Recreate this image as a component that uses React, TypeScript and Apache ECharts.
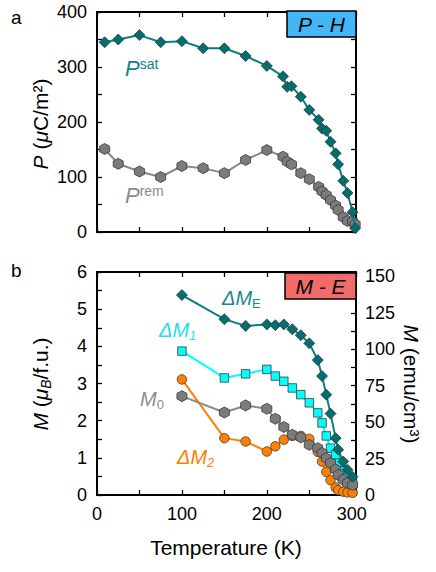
import React, { useEffect, useRef } from 'react';
import * as echarts from 'echarts';

// Panel a: polarization vs temperature
const T_TOP = [9, 25, 50, 75, 100, 125, 150, 175, 200, 219, 224, 229, 240, 250, 261, 265, 270, 275, 281, 284, 290, 295, 301, 304];
const P_SAT = [345, 350, 358, 345, 347, 334, 334, 320, 302, 283, 264, 265, 246, 222, 204, 188, 184, 164, 143, 123, 93, 71, 36, 7];
const P_REM = [151, 124, 110, 100, 120, 116, 107, 131, 149, 137, 128, 123, 107, 96, 82, 74, 67, 58, 48, 40, 27, 20, 19, 14];

// Panel b: magnetization vs temperature
const T_BOT = [100, 150, 175, 200, 210, 220, 230, 240, 250, 260, 265, 270, 275, 281, 284, 290, 295, 301];
const DM_E = [5.38, 4.73, 4.55, 4.59, 4.57, 4.59, 4.46, 4.3, 4.08, 3.63, 3.2, 2.7, 2.19, 1.53, 1.22, 0.9, 0.68, 0.49];
const DM_1 = [3.87, 3.15, 3.26, 3.38, 3.2, 3.06, 2.88, 2.7, 2.48, 2.21, 1.94, 1.59, 1.26, 1.08, 0.86, 0.65, 0.46, 0.3];
const M_0 = [2.66, 2.22, 2.41, 2.32, 2.05, 1.83, 1.62, 1.55, 1.35, 1.26, 1.13, 0.99, 0.86, 0.69, 0.54, 0.41, 0.32, 0.27];
const DM_2 = [3.11, 1.53, 1.44, 1.17, 1.31, 1.49, 1.59, 1.59, 1.51, 1.16, 0.9, 0.62, 0.4, 0.2, 0.13, 0.09, 0.07, 0.06];

const X_TICKS_LABELED = [0, 100, 200, 300];

const FONT = '"Liberation Sans", Arial, Helvetica, sans-serif';
const HEX = 'path://M0,-10L8.66,-5L8.66,5L0,10L-8.66,5L-8.66,-5Z';

const zip = (xs: number[], ys: number[]) => xs.map((x, i) => [x, ys[i]]);

const tick = { show: true, inside: true, length: 5, lineStyle: { color: '#000', width: 1.3 } };
const line = { show: true, onZero: false, lineStyle: { color: '#000', width: 2 } };

function xAxis(gridIndex: number, position: string, labels: boolean) {
  return {
    type: 'value', gridIndex, position, min: 0, max: 305, interval: 50,
    axisLine: line, axisTick: tick, splitLine: { show: false },
    axisLabel: labels ? {
      show: true, color: '#000', fontSize: 18, fontFamily: FONT, margin: 10,
      formatter: (v: number) => (X_TICKS_LABELED.includes(v) ? String(v) : ''),
    } : { show: false },
  };
}

function series(name: string, xi: number, yi: number, data: number[][], symbol: string, size: any, fill: string, lineColor: string, z: number) {
  return {
    name, type: 'line', xAxisIndex: xi, yAxisIndex: yi, data, symbol, symbolSize: size,
    showAllSymbol: true, z,
    lineStyle: { color: lineColor, width: 2 },
    itemStyle: { color: fill, borderColor: '#3a3a3a', borderWidth: 0.8 },
  };
}

function txt(x: number, y: number, text: string, rich: any, align = 'left', extra: any = {}) {
  return {
    type: 'text', x, y, z: 100, ...extra,
    style: { text, rich, align, verticalAlign: 'middle', fontFamily: FONT },
  };
}

const r = (size: number, color: string, italic = false, va?: string, lh?: number) => ({
  fontSize: size, fontFamily: FONT, fill: color, color, fontStyle: italic ? 'italic' : 'normal',
  ...(va ? { verticalAlign: va } : {}), ...(lh ? { lineHeight: lh } : {}),
});

export default function App() {
  const ref = useRef<HTMLDivElement>(null);
  useEffect(() => {
    const chart = echarts.init(ref.current!, null, { renderer: 'svg' });
    const option: any = {
      animation: false,
      backgroundColor: '#fff',
      grid: [
        { left: 97, top: 12, width: 259, height: 220 },
        { left: 97, top: 272, width: 259, height: 223 },
      ],
      xAxis: [
        xAxis(0, 'bottom', false),
        xAxis(0, 'top', false),
        xAxis(1, 'bottom', true),
        xAxis(1, 'top', false),
      ],
      yAxis: [
        {
          type: 'value', gridIndex: 0, position: 'left', min: 0, max: 400, interval: 50,
          axisLine: line, axisTick: tick, splitLine: { show: false },
          axisLabel: { color: '#000', fontSize: 18, fontFamily: FONT, margin: 10, formatter: (v: number) => (v % 100 === 0 ? String(v) : '') },
        },
        {
          type: 'value', gridIndex: 0, position: 'right', min: 0, max: 400, interval: 50,
          axisLine: line, axisTick: tick, splitLine: { show: false }, axisLabel: { show: false },
        },
        {
          type: 'value', gridIndex: 1, position: 'left', min: 0, max: 6, interval: 0.5,
          axisLine: line, axisTick: tick, splitLine: { show: false },
          axisLabel: { color: '#000', fontSize: 18, fontFamily: FONT, margin: 10, formatter: (v: number) => (Number.isInteger(v) ? String(v) : '') },
        },
        {
          type: 'value', gridIndex: 1, position: 'right', min: 0, max: 153, interval: 12.5,
          axisLine: line, axisTick: tick, splitLine: { show: false },
          axisLabel: { color: '#000', fontSize: 18, fontFamily: FONT, margin: 9, formatter: (v: number) => (v % 25 === 0 ? String(v) : '') },
        },
      ],
      series: [
        series('Prem', 0, 0, zip(T_TOP, P_REM), HEX, [10, 11], '#7b7b7b', '#8a8a8a', 2),
        series('Psat', 0, 0, zip(T_TOP, P_SAT), 'diamond', [11, 11], '#006f6f', '#0b7f7f', 3),
        series('dM2', 2, 2, zip(T_BOT, DM_2), 'circle', 9.5, '#ff8000', '#ff8000', 2),
        series('dM1', 2, 2, zip(T_BOT, DM_1), 'rect', 8.5, '#00ffff', '#00ffff', 3),
        series('M0', 2, 2, zip(T_BOT, M_0), HEX, [10, 11], '#7b7b7b', '#8a8a8a', 4),
        series('dME', 2, 2, zip(T_BOT, DM_E), 'diamond', [11, 11], '#006f6f', '#0b7f7f', 5),
      ],
      graphic: [
        { type: 'rect', z: 100, shape: { x: 287, y: 11, width: 69, height: 26 }, style: { fill: '#45b6f5', stroke: '#000', lineWidth: 1.5 } },
        txt(321.5, 24.5, '{a|P - H}', { a: r(21, '#000', true) }, 'center'),
        { type: 'rect', z: 100, shape: { x: 285, y: 273, width: 71, height: 26 }, style: { fill: '#f26b6b', stroke: '#000', lineWidth: 1.5 } },
        txt(320.5, 286.5, '{a|M - E}', { a: r(21, '#000', true) }, 'center'),
        txt(11, 17, '{a|a}', { a: r(19, '#000') }),
        txt(11, 270, '{a|b}', { a: r(19, '#000') }),
        // in-plot labels
        txt(125, 68, '{p|P}{s|sat}', { p: r(22, '#148585', true, undefined, 22), s: r(14, '#148585', false, 'top') }),
        txt(125, 195, '{p|P}{s|rem}', { p: r(22, '#8c8c8c', true, undefined, 22), s: r(14, '#8c8c8c', false, 'top') }),
        txt(222, 298, '{p|ΔM}{s|E}', { p: r(20, '#1a8a8a', true, undefined, 24), s: r(13, '#1a8a8a', false, 'bottom') }),
        txt(159, 330, '{p|ΔM}{s|1}', { p: r(20, '#22e0e6', true, undefined, 24), s: r(13, '#22e0e6', true, 'bottom') }),
        txt(140, 399, '{p|M}{s|0}', { p: r(20, '#8c8c8c', true, undefined, 24), s: r(13, '#8c8c8c', false, 'bottom') }),
        txt(177, 457, '{p|ΔM}{s|2}', { p: r(20, '#ff8000', true, undefined, 24), s: r(13, '#ff8000', true, 'bottom') }),
        // axis titles
        {
          type: 'group', x: 40, y: 124, rotation: Math.PI / 2,
          children: [txt(0, 0, '{i|P}{n| (}{i|μ}{n|C/m²)}', { i: r(21, '#000', true), n: r(21, '#000') }, 'center')],
        },
        {
          type: 'group', x: 40, y: 384, rotation: Math.PI / 2,
          children: [txt(0, 0, '{i|M}{n| (}{i|μ}{s|B}{n|/f.u.)}', { i: r(21, '#000', true, undefined, 26), n: r(21, '#000'), s: r(14, '#000', true, 'bottom') }, 'center')],
        },
        {
          type: 'group', x: 411, y: 384, rotation: -Math.PI / 2,
          children: [txt(0, 0, '{i|M}{n| (emu/cm³)}', { i: r(21, '#000', true), n: r(21, '#000') }, 'center')],
        },
        txt(226, 547, '{n|Temperature (K)}', { n: r(21, '#000') }, 'center'),
      ],
    };
    chart.setOption(option);
    return () => chart.dispose();
  }, []);
  return <div ref={ref} style={{ position: 'fixed', left: 0, top: 0, width: 436, height: 572 }} />;
}
